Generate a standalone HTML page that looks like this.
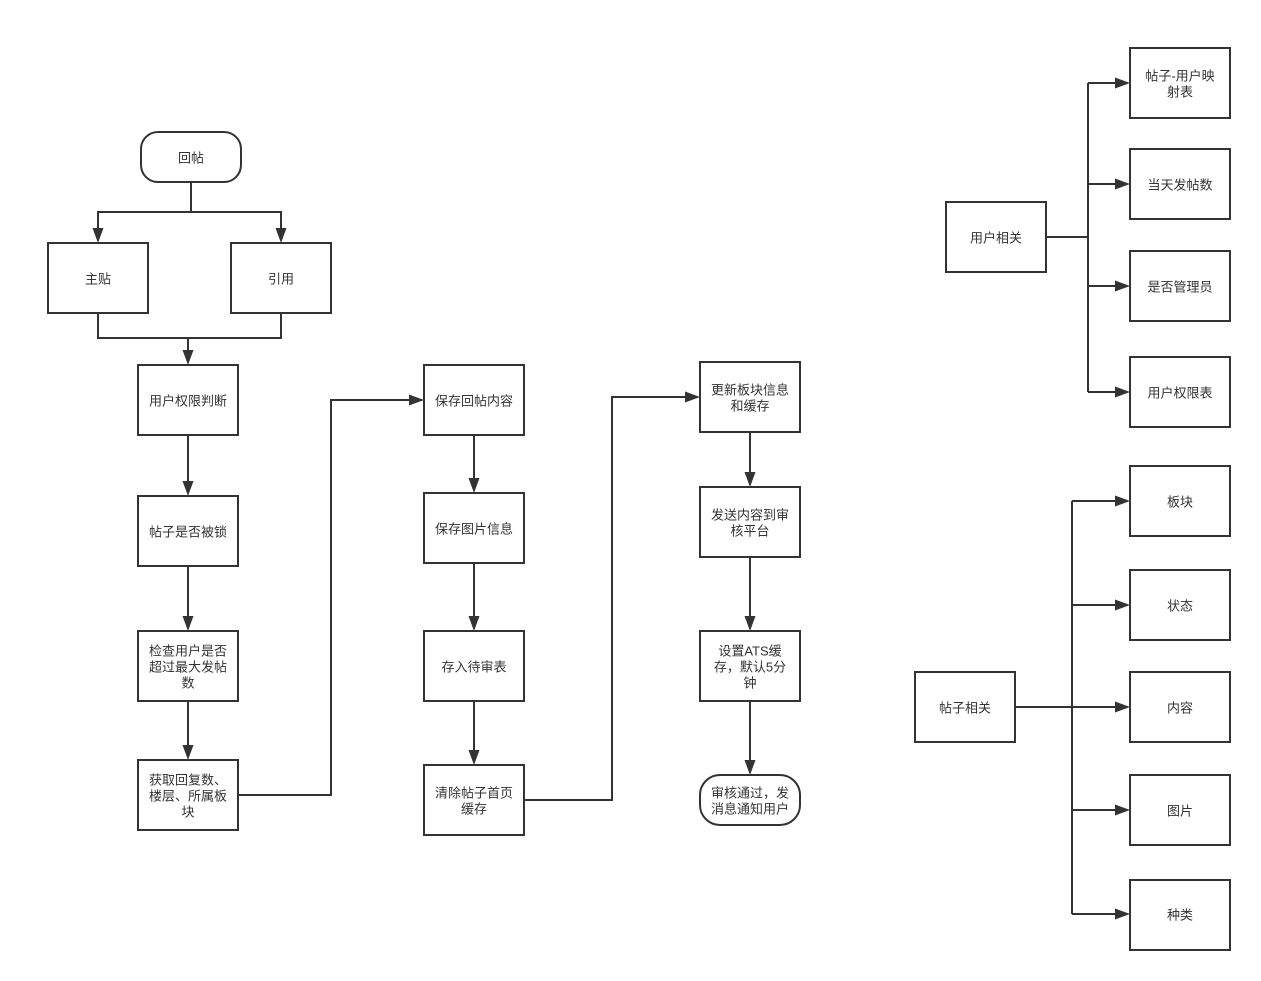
<!DOCTYPE html>
<html>
<head>
<meta charset="utf-8">
<style>
html,body{margin:0;padding:0;background:#fff;}
svg{display:block;}
text{font-family:"Liberation Sans","Noto Sans CJK SC",sans-serif;font-size:13px;fill:#333;}
</style>
</head>
<body>
<svg width="1261" height="981" viewBox="0 0 1261 981" xmlns="http://www.w3.org/2000/svg">
<rect x="0" y="0" width="1261" height="981" fill="#fff"/>
<g fill="none" stroke="#333" stroke-width="2">
  <rect x="141" y="132" width="100" height="50" rx="17" ry="17"/>
  <rect x="48" y="243" width="100" height="70"/>
  <rect x="231" y="243" width="100" height="70"/>
  <rect x="138" y="365" width="100" height="70"/>
  <rect x="138" y="496" width="100" height="70"/>
  <rect x="138" y="631" width="100" height="70"/>
  <rect x="138" y="760" width="100" height="70"/>
  <rect x="424" y="365" width="100" height="70"/>
  <rect x="424" y="493" width="100" height="70"/>
  <rect x="424" y="631" width="100" height="70"/>
  <rect x="424" y="765" width="100" height="70"/>
  <rect x="700" y="362" width="100" height="70"/>
  <rect x="700" y="487" width="100" height="70"/>
  <rect x="700" y="631" width="100" height="70"/>
  <rect x="700" y="775" width="100" height="50" rx="20" ry="20"/>
  <rect x="946" y="202" width="100" height="70"/>
  <rect x="1130" y="48" width="100" height="70"/>
  <rect x="1130" y="149" width="100" height="70"/>
  <rect x="1130" y="251" width="100" height="70"/>
  <rect x="1130" y="357" width="100" height="70"/>
  <rect x="915" y="672" width="100" height="70"/>
  <rect x="1130" y="466" width="100" height="70"/>
  <rect x="1130" y="570" width="100" height="70"/>
  <rect x="1130" y="672" width="100" height="70"/>
  <rect x="1130" y="775" width="100" height="70"/>
  <rect x="1130" y="880" width="100" height="70"/>

  <polyline points="191,182 191,212"/>
  <polyline points="98,229 98,212 281,212 281,229"/>
  <polyline points="98,313 98,338 281,338 281,313"/>
  <polyline points="188,338 188,351"/>
  <polyline points="188,435 188,482"/>
  <polyline points="188,566 188,617"/>
  <polyline points="188,701 188,746"/>
  <polyline points="238,795 331,795 331,400 410,400"/>
  <polyline points="474,435 474,479"/>
  <polyline points="474,563 474,617"/>
  <polyline points="474,701 474,751"/>
  <polyline points="524,800 612,800 612,397 686,397"/>
  <polyline points="750,432 750,473"/>
  <polyline points="750,557 750,617"/>
  <polyline points="750,701 750,761"/>

  <polyline points="1046,237 1088,237"/>
  <polyline points="1088,83 1088,392"/>
  <polyline points="1088,83 1116,83"/>
  <polyline points="1088,184 1116,184"/>
  <polyline points="1088,286 1116,286"/>
  <polyline points="1088,392 1116,392"/>

  <polyline points="1015,707 1116,707"/>
  <polyline points="1072,501 1072,914"/>
  <polyline points="1072,501 1116,501"/>
  <polyline points="1072,605 1116,605"/>
  <polyline points="1072,810 1116,810"/>
  <polyline points="1072,914 1116,914"/>
</g>

<g fill="#333" stroke="none">
  <polygon points="92.5,228 103.5,228 98,243"/>
  <polygon points="275.5,228 286.5,228 281,243"/>
  <polygon points="182.5,350 193.5,350 188,365"/>
  <polygon points="182.5,481 193.5,481 188,496"/>
  <polygon points="182.5,616 193.5,616 188,631"/>
  <polygon points="182.5,745 193.5,745 188,760"/>
  <polygon points="468.5,478 479.5,478 474,493"/>
  <polygon points="468.5,616 479.5,616 474,631"/>
  <polygon points="468.5,750 479.5,750 474,765"/>
  <polygon points="744.5,472 755.5,472 750,487"/>
  <polygon points="744.5,616 755.5,616 750,631"/>
  <polygon points="744.5,760 755.5,760 750,775"/>
  <polygon points="409,394.5 409,405.5 424,400"/>
  <polygon points="685,391.5 685,402.5 700,397"/>
  <polygon points="1115,77.5 1115,88.5 1130,83"/>
  <polygon points="1115,178.5 1115,189.5 1130,184"/>
  <polygon points="1115,280.5 1115,291.5 1130,286"/>
  <polygon points="1115,386.5 1115,397.5 1130,392"/>
  <polygon points="1115,495.5 1115,506.5 1130,501"/>
  <polygon points="1115,599.5 1115,610.5 1130,605"/>
  <polygon points="1115,701.5 1115,712.5 1130,707"/>
  <polygon points="1115,804.5 1115,815.5 1130,810"/>
  <polygon points="1115,908.5 1115,919.5 1130,914"/>
</g>

<g text-anchor="middle" dominant-baseline="central" transform="translate(0,1)">
  <text x="191" y="157">回帖</text>
  <text x="98" y="278">主贴</text>
  <text x="281" y="278">引用</text>
  <text x="188" y="400">用户权限判断</text>
  <text x="188" y="531">帖子是否被锁</text>
  <text x="188" y="650">检查用户是否</text>
  <text x="188" y="666">超过最大发帖</text>
  <text x="188" y="682">数</text>
  <text x="188" y="779">获取回复数、</text>
  <text x="188" y="795">楼层、所属板</text>
  <text x="188" y="811">块</text>

  <text x="474" y="400">保存回帖内容</text>
  <text x="474" y="528">保存图片信息</text>
  <text x="474" y="666">存入待审表</text>
  <text x="474" y="792">清除帖子首页</text>
  <text x="474" y="808">缓存</text>

  <text x="750" y="389">更新板块信息</text>
  <text x="750" y="405">和缓存</text>
  <text x="750" y="514">发送内容到审</text>
  <text x="750" y="530">核平台</text>
  <text x="750" y="650">设置ATS缓</text>
  <text x="750" y="666">存，默认5分</text>
  <text x="750" y="682">钟</text>
  <text x="750" y="792">审核通过，发</text>
  <text x="750" y="808">消息通知用户</text>

  <text x="996" y="237">用户相关</text>
  <text x="1180" y="75">帖子-用户映</text>
  <text x="1180" y="91">射表</text>
  <text x="1180" y="184">当天发帖数</text>
  <text x="1180" y="286">是否管理员</text>
  <text x="1180" y="392">用户权限表</text>

  <text x="965" y="707">帖子相关</text>
  <text x="1180" y="501">板块</text>
  <text x="1180" y="605">状态</text>
  <text x="1180" y="707">内容</text>
  <text x="1180" y="810">图片</text>
  <text x="1180" y="914">种类</text>
</g>
</svg>
</body>
</html>
